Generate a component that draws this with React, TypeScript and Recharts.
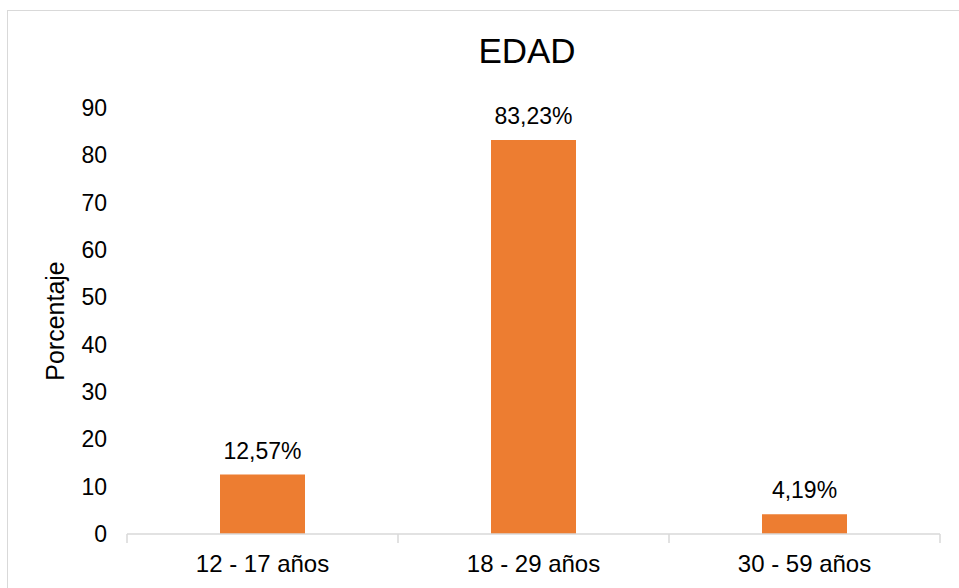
import { BarChart, Bar, XAxis, YAxis, LabelList } from "recharts";

const categories = ["12 - 17 años", "18 - 29 años", "30 - 59 años"];
const percentages = [12.57, 83.23, 4.19];
const yTicks = [0, 10, 20, 30, 40, 50, 60, 70, 80, 90];

const data = categories.map((edad, i) => ({ edad, valor: percentages[i] }));

const font = "'Liberation Sans', Arial, sans-serif";
const gridGray = "#d9d9d9";

// category label plus the small separator ticks at the band edges
const EdadTick = (props: any) => {
  const { x, y, payload, index } = props;
  const half = payload?.offset ?? 0;
  const last = index === categories.length - 1;
  return (
    <g>
      <line x1={x - half} x2={x - half} y1={y} y2={y + 9} stroke={gridGray} strokeWidth={1.5} />
      {last && <line x1={x + half} x2={x + half} y1={y} y2={y + 9} stroke={gridGray} strokeWidth={1.5} />}
      <text x={x} y={y} dy={38} textAnchor="middle" fill="#000" fontSize={24} fontFamily={font}>
        {payload.value}
      </text>
    </g>
  );
};

const App = () => {
  return (
    <div style={{ position: "absolute", left: 0, top: 0, width: 959, height: 588, overflow: "hidden", background: "#fff", fontFamily: font }}>
      <div style={{ position: "absolute", left: 7, top: 10, width: 1000, height: 700, border: "1.5px solid " + gridGray }} />
      <div style={{ position: "absolute", left: 0, width: 1054, top: 31, textAlign: "center", fontSize: 35, color: "#000" }}>EDAD</div>
      <BarChart width={959} height={588} data={data} margin={{ top: 108, right: 19, bottom: 0, left: 0 }} style={{ position: "absolute", left: 0, top: 0 }}>
        <XAxis dataKey="edad" height={54} axisLine={{ stroke: gridGray, strokeWidth: 1.5 }} tickLine={false} tickSize={0} tickMargin={0} tick={<EdadTick />} interval={0} />
        <YAxis domain={[0, 90]} ticks={yTicks} width={127} axisLine={false} tickLine={false} tickSize={6} tickMargin={14} tick={{ fill: "#000", fontSize: 23, fontFamily: font }}
          label={{ value: "Porcentaje", angle: -90, position: "insideLeft", offset: 55, style: { fill: "#000", fontSize: 25, fontFamily: font, textAnchor: "middle" } }} />
        <Bar dataKey="valor" fill="#ED7D31" barSize={85} isAnimationActive={false}>
          <LabelList dataKey="valor" position="top" offset={16} formatter={(v: number) => v.toFixed(2).replace(".", ",") + "%"} style={{ fill: "#000", fontSize: 23, fontFamily: font }} />
        </Bar>
      </BarChart>
    </div>
  );
};

export default App;
